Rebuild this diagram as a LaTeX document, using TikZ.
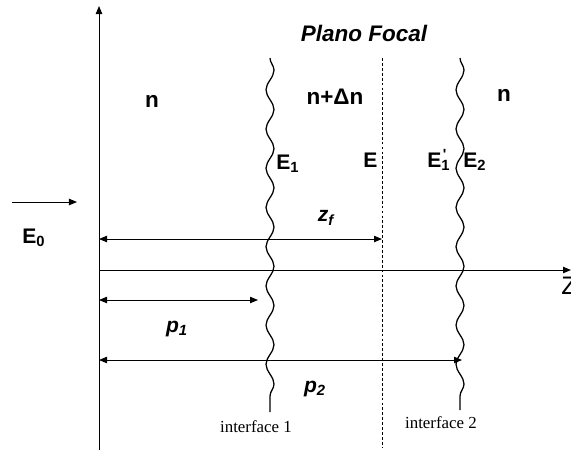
\documentclass[tikz,border=0pt]{standalone}
\usepackage{fontspec}
\setmainfont{Liberation Serif}
\setsansfont{Liberation Sans}
\usetikzlibrary{arrows.meta,decorations.pathmorphing}

\begin{document}
\begin{tikzpicture}[
  x=0.025cm, y=-0.025cm,
  medium/.style={font=\sffamily\bfseries\fontsize{16}{19}\selectfont, inner sep=0pt},
  field/.style={font=\sffamily\bfseries\fontsize{15}{18}\selectfont, inner sep=0pt},
  dist/.style={font=\sffamily\bfseries\itshape\fontsize{15}{18}\selectfont, inner sep=0pt},
  tag/.style={font=\rmfamily\fontsize{12}{14}\selectfont, inner sep=0pt},
  axis/.style={-{Triangle[length=2mm,width=1.6mm]}, line width=0.7pt},
  dbl/.style={{Triangle[length=2mm,width=1.6mm]}-{Triangle[length=2mm,width=1.6mm]}, line width=0.6pt},
  wavy/.style={decorate, decoration={snake, segment length=0.98cm, amplitude=0.1cm}, line width=0.9pt},
  focal/.style={dash pattern=on 2pt off 1.5pt, line width=0.6pt},
]
  \useasboundingbox (0,0) rectangle (571,450);

  \coordinate (ybot) at (99,450);
  \coordinate (ytop) at (99,6);
  \coordinate (O) at (99,270);
  \coordinate (zend) at (571,270);
  \coordinate (inA) at (12,202);
  \coordinate (inB) at (77,202);
  \coordinate (ifaceAtop) at (270,58);
  \coordinate (ifaceAbot) at (270,412);
  \coordinate (ifaceBtop) at (460,58);
  \coordinate (ifaceBbot) at (460,410);
  \coordinate (focaltop) at (382,58);
  \coordinate (focalbot) at (382,448);
  \coordinate (zfA) at (99,239);
  \coordinate (zfB) at (382,239);
  \coordinate (pAa) at (99,300);
  \coordinate (pAb) at (258,300);
  \coordinate (pBa) at (99,360);
  \coordinate (pBb) at (462,360);

  \node[medium, font=\sffamily\bfseries\itshape\fontsize{16}{19}\selectfont] (focal) at (364,33) {Plano Focal};
  \node[medium] (nleft) at (152,101) {n};
  \node[medium] (nmid) at (335,97) {n+Δn};
  \node[medium] (nright) at (504,95) {n};
  \node[field, anchor=base west] (Ezero) at (22,243) {E\textsubscript{0}};
  \node[field, anchor=base west] (Eone) at (276,169) {E\textsubscript{1}};
  \node[field, anchor=base west] (Efocal) at (363,167) {E};
  \node[field, anchor=base west] (Eoneb) at (427,167) {E\makebox[0pt][l]{\textsuperscript{\kern1pt\textquotesingle}}\textsubscript{1}};
  \node[field, anchor=base west] (Etwo) at (463,167) {E\textsubscript{2}};
  \node[dist] (zf) at (326,218) {z\textsubscript{f}};
  \node[dist] (pone) at (177,329) {p\textsubscript{1}};
  \node[dist] (ptwo) at (315,389) {p\textsubscript{2}};
  \node[font=\sffamily\fontsize{18}{21}\selectfont, inner sep=0pt, anchor=north west] (zlab) at (561,277) {Z};
  \node[tag] (ifaceone) at (256,427) {interface 1};
  \node[tag] (ifacetwo) at (441,423) {interface 2};

  \draw[axis] (ybot) -- (ytop);
  \draw[axis] (O) -- (zend);
  \draw[axis] (inA) -- (inB);
  \draw[wavy] (ifaceAtop) -- (ifaceAbot);
  \draw[wavy] (ifaceBtop) -- (ifaceBbot);
  \draw[focal] (focaltop) -- (focalbot);
  \draw[dbl] (zfA) -- (zfB);
  \draw[dbl] (pAa) -- (pAb);
  \draw[dbl] (pBa) -- (pBb);
\end{tikzpicture}
\end{document}
